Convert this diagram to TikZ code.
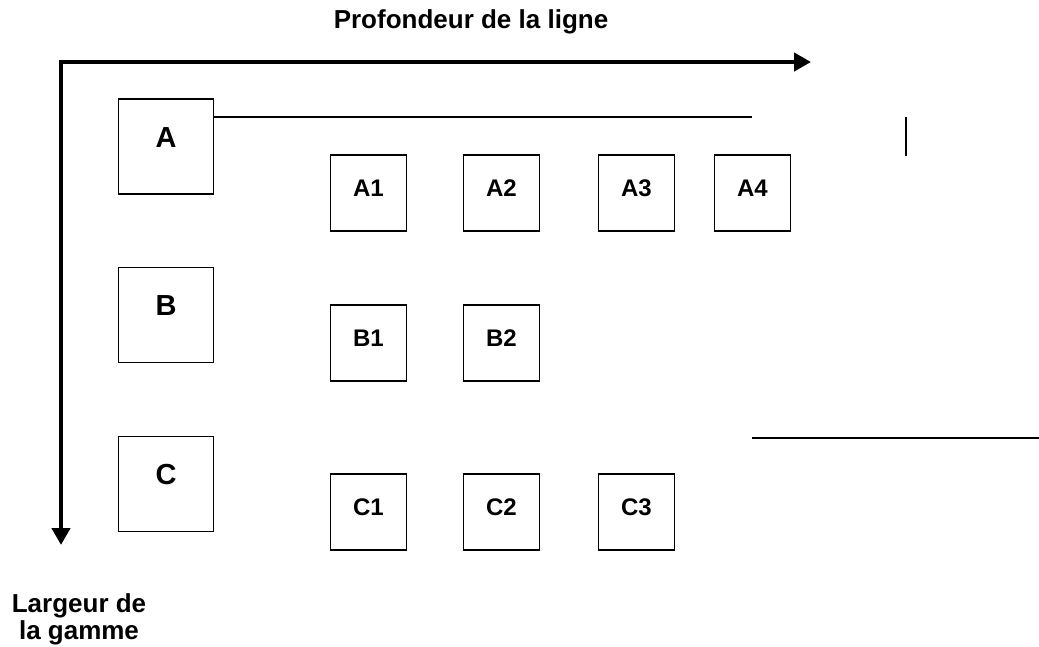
\documentclass[tikz,border=0pt]{standalone}
\usepackage{fontspec}
\setmainfont{Liberation Sans}
\usetikzlibrary{arrows.meta}

\begin{document}
\begin{tikzpicture}
    [x=1pt,y=-1pt,every node/.style={font=\bfseries\fontsize{24}{27}\selectfont},
     big/.style={draw,line width=1.6pt,minimum size=95pt,inner sep=0pt},
     small/.style={draw,line width=1.6pt,minimum size=76pt,inner sep=0pt},
     axis/.style={line width=4.5pt,{Triangle[length=17pt,width=18pt]}-{Triangle[length=17pt,width=18pt]}}]
    \useasboundingbox (0,0) rectangle (1039,647);

    % axes
    \coordinate (o) at (61,62);
    \coordinate (xend) at (811,62);
    \coordinate (yend) at (61,545);
    \draw[axis] (yend) -- (o) -- (xend);
    \node[font=\bfseries\fontsize{26}{27}\selectfont] (depth) at (471,22) {Profondeur de la ligne};
    \node[align=center,font=\bfseries\fontsize{26}{27}\selectfont] (width) at (79,619) {Largeur de\\ la gamme};

    % ranges
    \node[big,label={[yshift=9pt,font=\bfseries\fontsize{29}{34}\selectfont]center:A}] (A) at (166,146.5) {};
    \node[big,label={[yshift=9pt,font=\bfseries\fontsize{29}{34}\selectfont]center:B}] (B) at (166,315) {};
    \node[big,label={[yshift=9pt,font=\bfseries\fontsize{29}{34}\selectfont]center:C}] (C) at (166,484) {};

    % products
    \node[small,label={[yshift=5pt]center:A1}] (a1) at (368.5,193) {};
    \node[small,label={[yshift=5pt]center:A2}] (a2) at (501.5,193) {};
    \node[small,label={[yshift=5pt]center:A3}] (a3) at (636.5,193) {};
    \node[small,label={[yshift=5pt]center:A4}] (a4) at (752.5,193) {};
    \node[small,label={[yshift=5pt]center:B1}] (b1) at (368.5,343) {};
    \node[small,label={[yshift=5pt]center:B2}] (b2) at (501.5,343) {};
    \node[small,label={[yshift=5pt]center:C1}] (c1) at (368.5,512) {};
    \node[small,label={[yshift=5pt]center:C2}] (c2) at (501.5,512) {};
    \node[small,label={[yshift=5pt]center:C3}] (c3) at (636.5,512) {};

    % loose strokes
    \coordinate (aend) at (752,117);
    \draw[line width=1.3pt] (A.east |- aend) -- (aend);
    \draw[line width=2pt] (906,117) -- (906,156);
    \draw[line width=1.5pt] (752,438) -- (1039,438);
  \end{tikzpicture}
\end{document}
